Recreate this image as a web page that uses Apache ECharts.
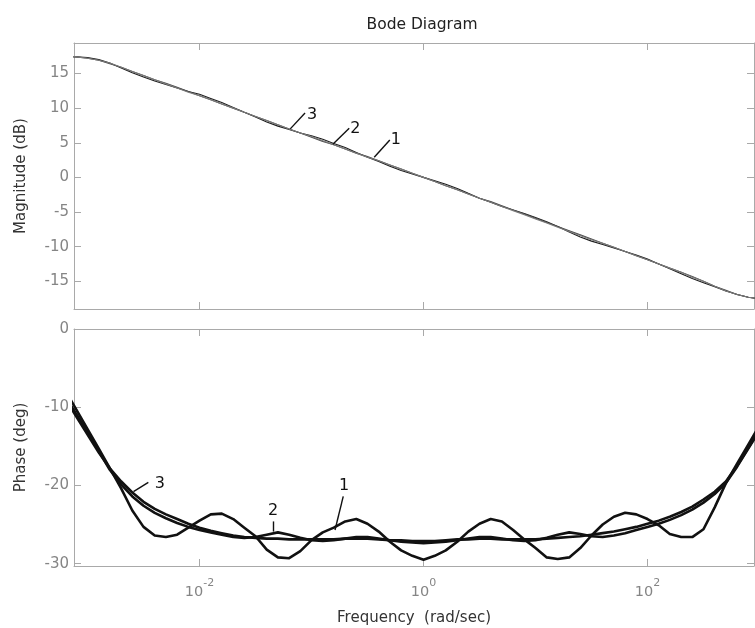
<!DOCTYPE html>
<html>
<head>
<meta charset="utf-8">
<title>Bode Diagram</title>
<script src="https://cdn.jsdelivr.net/npm/echarts@6/dist/echarts.min.js"></script>
<style>
  html, body { margin: 0; padding: 0; background: #fff; }
  #chart { width: 755px; height: 628px; }
</style>
</head>
<body>
<div id="chart"></div>
<script>
// Frequency samples (rad/sec), 0.1-decade spacing
const frequencies = [
  0.000631, 0.000794,
  0.001, 0.00126, 0.00158, 0.002, 0.00251, 0.00316, 0.00398, 0.00501, 0.00631, 0.00794,
  0.01, 0.0126, 0.0158, 0.02, 0.0251, 0.0316, 0.0398, 0.0501, 0.0631, 0.0794,
  0.1, 0.126, 0.158, 0.2, 0.251, 0.316, 0.398, 0.501, 0.631, 0.794,
  1, 1.26, 1.58, 2, 2.51, 3.16, 3.98, 5.01, 6.31, 7.94,
  10, 12.6, 15.8, 20, 25.1, 31.6, 39.8, 50.1, 63.1, 79.4,
  100, 126, 158, 200, 251, 316, 398, 501, 631, 794,
  1000
];

// Magnitude (dB) of the three approximations
const magnitude1 = [
  17.5, 17.4,
  17.3, 17.0, 16.5, 15.8, 15.1, 14.5, 13.9, 13.4, 12.9, 12.4,
  12.0, 11.4, 10.8, 10.1, 9.4, 8.7, 8.0, 7.4, 6.9, 6.4,
  6.0, 5.5, 4.9, 4.3, 3.6, 2.9, 2.3, 1.6, 1.0, 0.5,
  0.0, -0.5, -1.0, -1.6, -2.3, -3.0, -3.6, -4.2, -4.7, -5.2,
  -5.8, -6.4, -7.1, -7.9, -8.6, -9.2, -9.7, -10.2, -10.7, -11.2,
  -11.8, -12.5, -13.2, -13.9, -14.6, -15.2, -15.8, -16.4, -16.9, -17.3,
  -17.5
];
const magnitude2 = [
  17.5, 17.4,
  17.2, 16.9, 16.4, 15.9, 15.3, 14.7, 14.1, 13.6, 13.0, 12.4,
  11.8, 11.2, 10.6, 10.0, 9.4, 8.8, 8.2, 7.6, 7.0, 6.4,
  5.8, 5.2, 4.7, 4.1, 3.5, 3.0, 2.4, 1.8, 1.2, 0.6,
  0.0, -0.6, -1.2, -1.8, -2.4, -3.0, -3.5, -4.1, -4.7, -5.3,
  -5.9, -6.5, -7.1, -7.7, -8.3, -8.9, -9.5, -10.1, -10.7, -11.3,
  -11.9, -12.5, -13.1, -13.7, -14.3, -15.0, -15.7, -16.3, -16.9, -17.3,
  -17.6
];
const magnitude3 = [
  17.5, 17.4,
  17.2, 16.9, 16.5, 15.9, 15.3, 14.7, 14.1, 13.5, 12.9, 12.3,
  11.8, 11.2, 10.6, 10.0, 9.4, 8.8, 8.2, 7.6, 7.0, 6.4,
  5.9, 5.3, 4.7, 4.1, 3.5, 2.9, 2.4, 1.8, 1.2, 0.6,
  0.0, -0.6, -1.2, -1.8, -2.4, -3.0, -3.6, -4.2, -4.8, -5.4,
  -6.0, -6.6, -7.2, -7.8, -8.4, -9.0, -9.5, -10.1, -10.7, -11.3,
  -11.9, -12.5, -13.1, -13.7, -14.4, -15.0, -15.7, -16.4, -16.9, -17.3,
  -17.5
];

// Phase (deg) of the three approximations
const phase1 = [
  -7.8, -10.3,
  -12.8, -15.3, -17.8, -20.4, -23.2, -25.3, -26.4, -26.6, -26.3, -25.4,
  -24.5, -23.7, -23.6, -24.3, -25.4, -26.5, -28.2, -29.2, -29.3, -28.4,
  -27.0, -26.0, -25.4, -24.6, -24.3, -24.9, -25.9, -27.2, -28.3, -29.0,
  -29.5, -29.0, -28.3, -27.2, -25.9, -24.9, -24.3, -24.6, -25.7, -26.9,
  -28.0, -29.2, -29.4, -29.2, -28.0, -26.4, -25.0, -24.0, -23.5, -23.7,
  -24.3, -25.1, -26.2, -26.6, -26.6, -25.6, -22.8, -19.7, -17.2, -14.8,
  -12.3
];
const phase2 = [
  -8.6, -10.9,
  -13.2, -15.6, -18.0, -19.9, -21.4, -22.6, -23.5, -24.2, -24.8, -25.3,
  -25.7, -26.0, -26.3, -26.6, -26.7, -26.6, -26.3, -26.0, -26.3, -26.7,
  -27.0, -27.1, -27.0, -26.8, -26.6, -26.6, -26.8, -27.0, -27.2, -27.3,
  -27.4, -27.3, -27.2, -27.0, -26.8, -26.6, -26.6, -26.8, -27.0, -27.1,
  -27.0, -26.7, -26.3, -26.0, -26.2, -26.5, -26.6, -26.4, -26.1, -25.7,
  -25.3, -24.9, -24.4, -23.8, -23.1, -22.2, -21.1, -19.7, -17.6, -15.3,
  -13.0
];
const phase3 = [
  -8.9, -11.2,
  -13.5, -15.8, -17.8, -19.5, -20.9, -22.1, -23.0, -23.7, -24.3, -24.9,
  -25.4, -25.8, -26.1, -26.4, -26.6, -26.7, -26.8, -26.8, -26.9, -26.9,
  -26.9, -26.9, -26.9, -26.8, -26.8, -26.8, -26.9, -27.0, -27.0, -27.1,
  -27.1, -27.1, -27.0, -26.9, -26.9, -26.8, -26.8, -26.9, -26.9, -26.9,
  -26.9, -26.8, -26.7, -26.6, -26.5, -26.3, -26.1, -25.9, -25.6, -25.3,
  -24.9, -24.5, -24.0, -23.4, -22.7, -21.8, -20.8, -19.5, -17.5, -15.2,
  -12.9
];

// Curve labels: text, pointer start [freq, value], pointer end [freq, value]
const curveNames = ['1', '2', '3'];
const magnitudePointers = [
  [[0.363, 2.9], [0.5, 5.4]],
  [[0.155, 4.8], [0.217, 7.1]],
  [[0.0646, 7.0], [0.0875, 9.3]]
];
const phasePointers = [
  [[0.162, -25.7], [0.192, -21.4]],
  [[0.0453, -25.9], [0.0453, -24.6]],
  [[0.00257, -20.8], [0.00349, -19.6]]
];

// Axis ranges and tick values
const freqMin = 0.000757;
const freqMax = 893;
const freqTicks = [0.01, 1, 100];
const magRange = [-19, 19.4];
const magTicks = [-15, -10, -5, 0, 5, 10, 15];
const phaseRange = [-30.3, 0];
const phaseTicks = [-30, -20, -10, 0];

const FONT = 'DejaVu Sans';
const FRAME = '#a9a9a9';
const TICKTXT = '#858585';

function pairs(ys) {
  return frequencies.map((f, i) => [f, ys[i]]);
}

function pointerLine(p, text, offset) {
  return {
    symbol: 'none',
    silent: true,
    animation: false,
    lineStyle: { color: '#111', width: 1.4, type: 'solid' },
    label: {
      show: true, position: 'end', distance: 3, offset: offset,
      formatter: text, color: '#111', fontSize: 16, fontFamily: FONT
    },
    emphasis: { disabled: true },
    data: [[{ coord: p[0] }, { coord: p[1] }]]
  };
}

function freqAxis(grid, pos, withLabels) {
  const ax = {
    type: 'log', gridIndex: grid, position: pos,
    min: freqMin, max: freqMax, logBase: 10,
    axisLine: { show: true, onZero: false, lineStyle: { color: FRAME, width: 1 } },
    axisTick: { show: true, inside: true, length: 7, customValues: freqTicks,
      lineStyle: { color: FRAME } },
    minorTick: { show: false },
    splitLine: { show: false },
    axisLabel: { show: false }
  };
  if (withLabels) {
    ax.axisLabel = {
      show: true, customValues: freqTicks, margin: 12,
      formatter: v => '{b|10}{s|' + Math.round(Math.log10(v)) + '}',
      rich: {
        b: { fontSize: 14.5, fontFamily: FONT, color: TICKTXT, verticalAlign: 'bottom', lineHeight: 22 },
        s: { fontSize: 11, fontFamily: FONT, color: TICKTXT, verticalAlign: 'top', lineHeight: 22 }
      }
    };
    ax.name = 'Frequency  (rad/sec)';
    ax.nameLocation = 'middle';
    ax.nameGap = 45;
    ax.nameTextStyle = { fontSize: 15, fontFamily: FONT, color: '#333' };
  }
  return ax;
}

function valueAxis(grid, pos, range, ticks, name) {
  const ax = {
    type: 'value', gridIndex: grid, position: pos,
    min: range[0], max: range[1],
    axisLine: { show: true, onZero: false, lineStyle: { color: FRAME, width: 1 } },
    axisTick: { show: true, inside: true, length: 7, customValues: ticks,
      lineStyle: { color: FRAME } },
    splitLine: { show: false },
    axisLabel: { show: false }
  };
  if (name) {
    ax.axisLabel = {
      show: true, customValues: ticks, margin: 5,
      fontSize: 15, fontFamily: FONT, color: TICKTXT
    };
    ax.name = name;
    ax.nameLocation = 'middle';
    ax.nameRotate = 90;
    ax.nameGap = 45;
    ax.nameTextStyle = { fontSize: 15, fontFamily: FONT, color: '#333' };
  }
  return ax;
}

const magColors = ['#1e1e1e', '#4a4a4a', '#7a7a7a'];
const magData = [magnitude1, magnitude2, magnitude3];
const phaseData = [phase1, phase2, phase3];
const magLabelOffsets = [[4, 2], [4, 3], [5, 4]];
const phaseLabelOffsets = [[0, 0], [0, 0], [4, 3]];

const series = [];
magData.forEach((d, i) => {
  series.push({
    type: 'line', xAxisIndex: 0, yAxisIndex: 0,
    data: pairs(d), showSymbol: false, symbol: 'none',
    lineStyle: { color: magColors[i], width: 1.1 },
    clip: true, silent: true,
    markLine: pointerLine(magnitudePointers[i], curveNames[i], magLabelOffsets[i])
  });
});
phaseData.forEach((d, i) => {
  series.push({
    type: 'line', xAxisIndex: 2, yAxisIndex: 2,
    data: pairs(d), showSymbol: false, symbol: 'none',
    lineStyle: { color: '#111', width: 2.6, join: 'round' },
    clip: true, silent: true,
    markLine: pointerLine(phasePointers[i], curveNames[i], phaseLabelOffsets[i])
  });
});

const chart = echarts.init(document.getElementById('chart'), null, { renderer: 'canvas' });
chart.setOption({
  animation: false,
  backgroundColor: '#ffffff',
  title: {
    text: 'Bode Diagram', left: 417, top: 12, textAlign: 'center',
    textStyle: { fontSize: 15.5, fontWeight: 'normal', fontFamily: FONT, color: '#222' }
  },
  grid: [
    { left: 74, right: 1, top: 43, height: 266 },
    { left: 74, right: 1, top: 329, height: 237 }
  ],
  xAxis: [
    freqAxis(0, 'bottom', false),
    freqAxis(0, 'top', false),
    freqAxis(1, 'bottom', true),
    freqAxis(1, 'top', false)
  ],
  yAxis: [
    valueAxis(0, 'left', magRange, magTicks, 'Magnitude (dB)'),
    valueAxis(0, 'right', magRange, magTicks, null),
    valueAxis(1, 'left', phaseRange, phaseTicks, 'Phase (deg)'),
    valueAxis(1, 'right', phaseRange, phaseTicks, null)
  ],
  series: series
});
</script>
</body>
</html>
